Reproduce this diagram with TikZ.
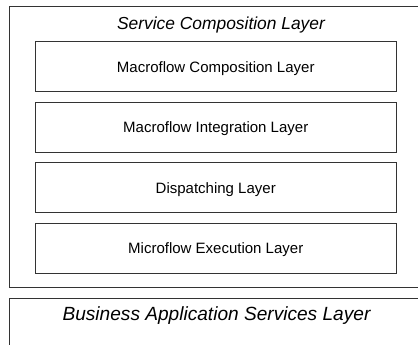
\documentclass[tikz,border=0pt]{standalone}
\usepackage{fontspec}
\setmainfont{Liberation Sans}
\begin{document}
\begin{tikzpicture}[x=1pt,y=-1pt,
  frame/.style={draw=black!80, line width=1pt},
  layerbox/.style={frame, rectangle, minimum width=360.5pt, minimum height=50pt, inner sep=0pt, text height=11pt, text depth=0pt, font=\fontsize{15}{18}\selectfont},
  titletext/.style={inner sep=0pt, anchor=base, font=\fontsize{17.4}{20}\selectfont\itshape},
  bigtitletext/.style={inner sep=0pt, anchor=base, font=\fontsize{19.1}{22}\selectfont\itshape}]
\useasboundingbox (0,0) rectangle (418,345);
\clip (0,0) rectangle (418,345);
\fill[white] (0,0) rectangle (418,345);
\draw[frame] (430,6.5) -- (9.5,6.5) -- (9.5,287.5) -- (430,287.5);
\draw[frame] (430,298.5) -- (9.5,298.5) -- (9.5,360);
\node[titletext] (sc) at (221,29.3) {Service Composition Layer};
\node[layerbox] (mc) at (215.75,67) {Macroflow Composition Layer};
\node[layerbox] (mi) at (215.75,127.3) {Macroflow Integration Layer};
\node[layerbox] (dl) at (215.75,187.7) {Dispatching Layer};
\node[layerbox] (me) at (215.75,248) {Microflow Execution Layer};
\node[bigtitletext] (ba) at (216.5,320.7) {Business Application Services Layer};
\end{tikzpicture}
\end{document}
